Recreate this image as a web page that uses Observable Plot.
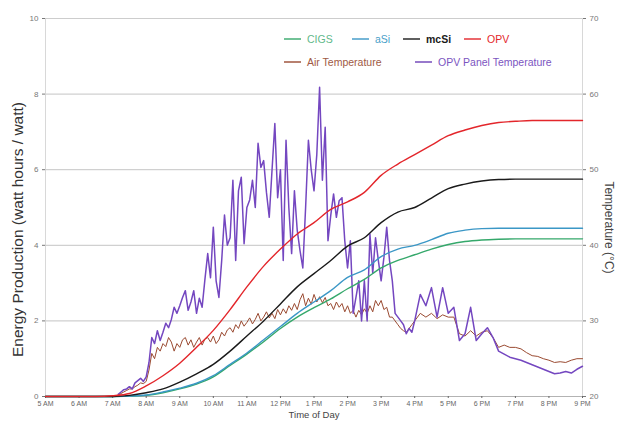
<!DOCTYPE html>
<html>
<head>
<meta charset="utf-8">
<script src="https://cdn.jsdelivr.net/npm/d3@7"></script>
<script src="https://cdn.jsdelivr.net/npm/@observablehq/plot@0.6"></script>
<style>
  html, body { margin: 0; padding: 0; background: #fff; }
  #chart { width: 620px; height: 438px; }
</style>
</head>
<body>
<div id="chart"></div>
<script>
// ---- x axis ticks ----
const hourTicks = [5,6,7,8,9,10,11,12,13,14,15,16,17,18,19,20,21];
const hourLabels = ["5 AM","6 AM","7 AM","8 AM","9 AM","10 AM","11 AM","12 PM","1 PM","2 PM","3 PM","4 PM","5 PM","6 PM","7 PM","8 PM","9 PM"];
const energyTicks = [0,2,4,6,8,10];
const tempTickLabels = ["20","30","40","50","60","70"];

// ---- cumulative energy (half-hour samples) ----
const energyHours = [5,5.5,6,6.5,7,7.5,8,8.5,9,9.5,10,10.5,11,11.5,12,12.5,13,13.5,14,14.5,15,15.5,16,16.5,17,17.5,18,18.5,19,19.5,20,20.5,21];
const cigs = [0,0,0,0,0,0.01,0.03,0.1,0.2,0.33,0.52,0.82,1.12,1.45,1.8,2.1,2.35,2.58,2.85,3.1,3.4,3.6,3.75,3.9,4.02,4.1,4.14,4.16,4.17,4.17,4.17,4.17,4.17];
const asi  = [0,0,0,0,0,0.01,0.04,0.12,0.22,0.35,0.55,0.85,1.15,1.5,1.85,2.2,2.5,2.8,3.15,3.35,3.7,3.9,4.0,4.15,4.32,4.4,4.44,4.45,4.45,4.45,4.45,4.45,4.45];
const mcsi = [0,0,0,0,0,0.03,0.1,0.2,0.38,0.6,0.85,1.2,1.6,2.0,2.45,2.9,3.25,3.6,3.98,4.2,4.6,4.88,5.0,5.25,5.5,5.62,5.7,5.74,5.75,5.75,5.75,5.75,5.75];
const opv  = [0,0,0,0,0.02,0.08,0.28,0.55,0.88,1.3,1.75,2.3,2.9,3.45,3.9,4.3,4.6,4.95,5.15,5.4,5.85,6.15,6.4,6.65,6.9,7.05,7.17,7.25,7.28,7.3,7.3,7.3,7.3];

// ---- temperatures (°C) ----
const tempTimes = [
  "7:10","7:15","7:20","7:25","7:30","7:35","7:40","7:45","7:50","7:55",
  "8:00","8:05","8:10","8:15","8:20","8:25","8:30","8:35","8:40","8:45","8:50","8:55",
  "9:00","9:05","9:10","9:15","9:20","9:25","9:30","9:35","9:40","9:45","9:50","9:55",
  "10:00","10:05","10:10","10:15","10:20","10:25","10:30","10:35","10:40","10:45","10:50","10:55",
  "11:00","11:05","11:10","11:15","11:20","11:25","11:30","11:35","11:40","11:45","11:50","11:55",
  "12:00","12:05","12:10","12:15","12:20","12:25","12:30","12:35","12:40","12:45","12:50","12:55",
  "13:00","13:05","13:10","13:15","13:20","13:25","13:30","13:35","13:40","13:45","13:50","13:55",
  "14:00","14:05","14:10","14:15","14:20","14:25","14:30","14:35","14:40","14:45","14:50","14:55",
  "15:00","15:05","15:10","15:15","15:20","15:25","15:30","15:35","15:40","15:45","15:50","15:55",
  "16:00",
  "16:10","16:20","16:30","16:40","16:50",
  "17:00","17:10","17:20","17:30","17:40","17:50",
  "18:00","18:10","18:20","18:30","18:40","18:50",
  "19:00","19:10","19:20","19:30","19:40","19:50",
  "20:00","20:10","20:20","20:30","20:40","20:50",
  "21:00"
];
const panelTemp = [
  20.3,20.6,20.9,21.0,21.3,21.0,21.8,22.1,22.4,22.0,
  22.6,24.5,27.8,27.0,28.7,27.4,28.5,29.7,29.1,30.2,31.8,31.0,
  32.0,33.1,34.0,31.4,32.5,34.0,31.0,33.0,31.8,35.5,38.9,35.7,
  42.4,35.3,33.1,38.0,44.0,40.0,41.0,48.6,38.0,47.2,49.0,40.2,
  45.0,46.0,48.6,45.0,53.5,50.3,51.2,47.0,43.7,50.0,56.1,46.3,
  50.0,38.0,53.9,45.0,38.9,47.2,42.0,39.3,37.0,45.0,53.9,50.0,
  47.2,52.0,60.9,48.6,55.6,40.6,44.0,46.8,43.7,45.9,46.3,40.6,
  37.0,40.6,31.0,33.1,35.3,30.0,35.3,30.0,41.5,36.3,41.0,38.0,
  35.3,38.4,42.4,38.0,35.3,31.0,30.5,30.0,29.5,28.3,29.0,28.5,
  30.0,
  33.5,32.0,34.4,30.5,34.4,
  31.0,31.8,27.4,28.3,31.8,27.4,
  28.3,29.1,27.8,26.0,25.6,25.2,
  25.0,24.8,24.5,24.2,23.9,23.6,
  23.3,23.0,23.1,23.3,23.1,23.6,
  24.0
];
const airTemp = [
  20.2,20.4,20.6,20.8,21.0,21.0,21.3,21.5,21.8,21.7,
  22.0,23.5,25.7,25.0,26.5,26.0,27.0,26.6,27.8,27.2,26.0,27.0,
  26.5,27.5,27.8,26.8,27.5,26.5,27.2,27.8,26.8,27.6,27.8,27.2,
  28.0,27.0,27.5,28.5,28.0,28.8,29.1,28.5,29.5,29.0,30.0,29.3,
  29.8,30.4,29.6,30.2,31.0,30.0,30.5,31.2,30.4,31.0,30.3,31.5,
  30.8,31.6,31.0,32.0,31.4,32.3,31.5,32.8,33.6,32.0,33.0,32.2,
  33.5,32.5,33.2,32.4,33.1,32.0,32.3,31.5,32.5,31.8,32.3,31.2,
  32.0,31.0,31.4,30.5,31.4,30.8,31.6,31.0,32.0,31.2,32.7,32.0,
  32.7,31.5,31.8,30.5,30.5,30.0,29.5,29.0,28.7,28.5,29.0,29.5,
  30.0,
  31.0,30.5,31.0,30.3,30.8,
  30.5,30.5,28.3,28.0,28.7,28.0,
  28.5,28.7,27.8,26.5,26.8,26.5,
  26.5,26.3,25.8,25.4,25.3,25.0,
  24.8,24.5,24.6,24.5,24.8,25.0,
  25.0
];

// ---- build tables ----
const toHours = s => { const [h, m] = s.split(":").map(Number); return h + m / 60; };
const energySeries = [
  {name: "CIGS", values: cigs, color: "#35a86b"},
  {name: "aSi", values: asi, color: "#3b97c6"},
  {name: "mcSi", values: mcsi, color: "#1a1a1a"},
  {name: "OPV", values: opv, color: "#e3262b"}
];
const energyRows = series => energyHours.map((h, i) => ({h, v: series.values[i]}));
const tempRows = vals => tempTimes.map((t, i) => ({h: toHours(t), t: vals[i]}));
// temperature axis: 20..70 °C maps onto 0..10 of the energy axis
const tempToY = d => (d.t - 20) / 5;

const font = "Liberation Sans, Arial, Helvetica, sans-serif";

const chart = Plot.plot({
  width: 620,
  height: 438,
  marginLeft: 45,
  marginRight: 38,
  marginTop: 18,
  marginBottom: 42,
  style: {fontFamily: font, background: "#fff", color: "#555"},
  x: {domain: [5, 21]},
  y: {domain: [0, 10]},
  marks: [
    Plot.gridY([2, 4, 6, 8, 10], {stroke: "#b5b5b5", strokeOpacity: 1, strokeWidth: 0.8}),
    Plot.frame({stroke: "#cfcfcf", strokeWidth: 0.8}),
    Plot.ruleY([0], {stroke: "#aaa", strokeWidth: 0.8}),
    Plot.axisX(hourTicks, {
      tickFormat: d => hourLabels[hourTicks.indexOf(d)],
      tickSize: 2, tickPadding: 3, fontSize: 7, label: null, color: "#666"
    }),
    Plot.axisY(energyTicks, {anchor: "left", tickSize: 3, tickPadding: 4, fontSize: 8, label: null, color: "#777"}),
    Plot.axisY(energyTicks, {
      anchor: "right", tickSize: 3, tickPadding: 4, fontSize: 8, label: null, color: "#777",
      tickFormat: d => tempTickLabels[energyTicks.indexOf(d)]
    }),
    Plot.text(["Time of Day"], {frameAnchor: "bottom", dy: 21, fontSize: 9.5, fill: "#444"}),
    Plot.text(["Energy Production (watt hours / watt)"], {
      frameAnchor: "left", rotate: -90, dx: -27, dy: 22, textAnchor: "middle", fontSize: 15.5, fill: "#333"
    }),
    Plot.text(["Temperature (°C)"], {
      frameAnchor: "right", rotate: 90, dx: 26, dy: 20, textAnchor: "middle", fontSize: 12, fill: "#444"
    }),
    Plot.line(tempRows(airTemp), {x: "h", y: tempToY, stroke: "#9a4a31", strokeWidth: 1}),
    Plot.line(tempRows(panelTemp), {x: "h", y: tempToY, stroke: "#7447c0", strokeWidth: 1.5}),
    ...energySeries.map(s => Plot.line(energyRows(s), {x: "h", y: "v", stroke: s.color, strokeWidth: 1.4, curve: "monotone-x"}))
  ]
});

document.getElementById("chart").appendChild(chart);

// ---- legend inside the plot, top right ----
const svg = d3.select(chart);
const legendItems = [
  {label: "CIGS", color: "#35a86b", text: "#5fb98a", x: 284, row: 0},
  {label: "aSi", color: "#3b97c6", text: "#4aa0c8", x: 352, row: 0},
  {label: "mcSi", color: "#1a1a1a", text: "#1a1a1a", x: 403, row: 0, bold: true},
  {label: "OPV", color: "#e3262b", text: "#e3262b", x: 464, row: 0},
  {label: "Air Temperature", color: "#9a4a31", text: "#a05a44", x: 284, row: 1},
  {label: "OPV Panel Temperature", color: "#6c3fb6", text: "#7b55bf", x: 415, row: 1}
];
const rowY = [39, 62];
const g = svg.append("g").attr("font-family", font).attr("font-size", 10.5).attr("text-anchor", "start");
for (const it of legendItems) {
  const y = rowY[it.row];
  g.append("line").attr("x1", it.x).attr("x2", it.x + 17).attr("y1", y).attr("y2", y)
    .attr("stroke", it.color).attr("stroke-width", 1.4);
  g.append("text").attr("x", it.x + 23).attr("y", y).attr("dy", "0.35em")
    .attr("text-anchor", "start")
    .attr("fill", it.text).attr("font-weight", it.bold ? "bold" : null).text(it.label);
}
</script>
</body>
</html>
